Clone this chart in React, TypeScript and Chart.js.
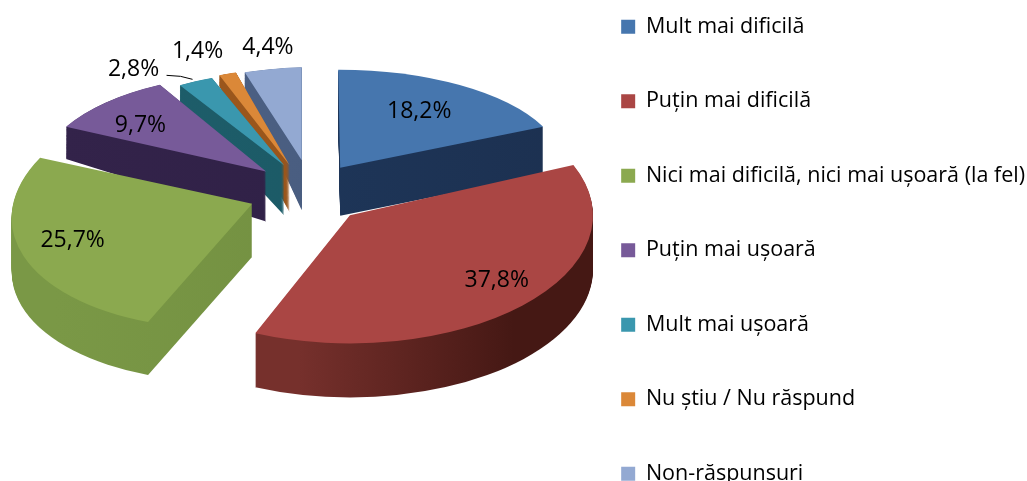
import React, { useEffect, useRef } from "react";
import { Chart, registerables } from "chart.js";

Chart.register(...registerables);

const categories = [
  "Mult mai dificilă",
  "Puțin mai dificilă",
  "Nici mai dificilă, nici mai ușoară (la fel)",
  "Puțin mai ușoară",
  "Mult mai ușoară",
  "Nu știu / Nu răspund",
  "Non-răspunsuri",
];
const percentages = [18.2, 37.8, 25.7, 9.7, 2.8, 1.4, 4.4];
const topColors = ["#4676AE", "#AA4644", "#8BA94F", "#775A99", "#3A97AE", "#DB8838", "#93A9D2"];
const sideLeft = ["#1F3A5F", "#76302C", "#7A9846", "#33234A", "#1F5F6C", "#A05A1E", "#4F6488"];
const sideRight = ["#1C3050", "#451814", "#6C883C", "#2D1F44", "#185560", "#8F4F18", "#435678"];
const explosion = [65, 62, 57, 56, 52, 52, 60];

// Per-slice projection of the tilted pie (2x2 matrix in px per unit radius), extrusion and nudge.
const projAx = [224, 243, 240, 224, 203, 197, 209];
const projBx = [2, -5.6, -17, -10.5, 0, 0, 0];
const projAy = [-0.4, 3, -5.5, 5, 0, 0, -5.5];
const projBy = [98, 128, 125, 98, 93.7, 96.5, 93];
const sliceDepth = [48, 54, 53, 50, 50, 47, 50];
const sideFlare = [1, 1, 1, 1.4, 1.4, 1.4, 1.4];
const sliceNudgeX = [0, 0, 0, 3, 2, 1, 5];
const sliceNudgeY = [5, 4, 3, 0, -1, 0, 0];
const paintOrder = [6, 5, 4, 3, 2, 0, 1];

const labelReach = [0.72, 0.8, 0.75, 0.72, 1, 1, 1];
const labelNudgeX = [-7, 9, -8, -10, -62, -30, -5];
const labelNudgeY = [3, -7, -2, 3.5, -12, -22, -21];

const CANVAS_TOP = -37;
const PIE_X = 305;
const PIE_Y = 190 - CANVAS_TOP; // canvas coordinates
const TILT = 0.5;
const FONT = "'Open Sans'";
const LEGEND_SIZE = 21.5;
const LEGEND_GAP = 53;
const LABEL_SIZE = 23;

const fmt = (v: number) => v.toFixed(1).replace(".", ",") + "%";

function apexOf(arc: any, i: number) {
  const mid = (arc.startAngle + arc.endAngle) / 2;
  return {
    mid,
    x: PIE_X + sliceNudgeX[i] + Math.cos(mid) * explosion[i],
    y: PIE_Y + sliceNudgeY[i] + Math.sin(mid) * explosion[i] * TILT,
  };
}

function applySlice(ctx: CanvasRenderingContext2D, arc: any, i: number, d = 0) {
  const apex = apexOf(arc, i);
  const R = arc.outerRadius;
  const flare = 1 + ((sideFlare[i] - 1) * d) / sliceDepth[i];
  ctx.translate(apex.x, apex.y + d);
  ctx.transform(projAx[i] / R, (projAy[i] * flare) / R, projBx[i] / R, (projBy[i] * flare) / R, 0, 0);
  ctx.translate(-arc.x, -arc.y);
}

const pie3d = {
  id: "pie3d",
  beforeDatasetDraw(chart: any) {
    const ctx: CanvasRenderingContext2D = chart.ctx;
    const arcs = chart.getDatasetMeta(0).data;
    for (const i of paintOrder) {
      const arc = arcs[i];
      const grad = ctx.createLinearGradient(PIE_X - 250, 0, PIE_X + 290, 0);
      const lo = i === 1 ? 0.45 : 0;
      const hi = i === 1 ? 0.85 : 1;
      grad.addColorStop(lo, sideLeft[i]);
      grad.addColorStop(hi, sideRight[i]);
      for (let d = sliceDepth[i]; d >= 1; d--) {
        ctx.save();
        applySlice(ctx, arc, i, d);
        ctx.beginPath();
        ctx.moveTo(arc.x, arc.y);
        ctx.arc(arc.x, arc.y, arc.outerRadius, arc.startAngle, arc.endAngle);
        ctx.closePath();
        ctx.restore();
        ctx.fillStyle = grad;
        ctx.fill();
      }
      ctx.save();
      applySlice(ctx, arc, i);
      arc.draw(ctx);
      ctx.restore();
    }
    return false;
  },
  afterDatasetsDraw(chart: any) {
    const ctx: CanvasRenderingContext2D = chart.ctx;
    const arcs = chart.getDatasetMeta(0).data;
    ctx.save();
    ctx.font = `${LABEL_SIZE}px ${FONT}`;
    ctx.fillStyle = "#000";
    ctx.textAlign = "center";
    ctx.textBaseline = "middle";
    arcs.forEach((arc: any, i: number) => {
      const apex = apexOf(arc, i);
      const ux = Math.cos(apex.mid) * labelReach[i];
      const uy = Math.sin(apex.mid) * labelReach[i];
      const x = apex.x + projAx[i] * ux + projBx[i] * uy + labelNudgeX[i];
      const y = apex.y + projAy[i] * ux + projBy[i] * uy + labelNudgeY[i];
      ctx.fillText(fmt(percentages[i]), x, y);
      if (i === 4) {
        ctx.beginPath();
        ctx.moveTo(x + 33, y + 6);
        ctx.lineTo(x + 47, y + 7);
        ctx.lineTo(x + 59, y + 10);
        ctx.strokeStyle = "#000";
        ctx.lineWidth = 1;
        ctx.stroke();
      }
    });
    ctx.restore();
  },
};

export default function App() {
  const ref = useRef<HTMLCanvasElement>(null);
  useEffect(() => {
    if (!ref.current) return;
    const chart = new Chart(ref.current, {
      type: "pie",
      data: {
        labels: categories,
        datasets: [{ data: percentages, backgroundColor: topColors, borderWidth: 0 }],
      },
      options: {
        animation: false,
        responsive: false,
        radius: 240,
        plugins: {
          tooltip: { enabled: false },
          legend: {
            position: "right",
            align: "start",
            labels: {
              boxWidth: 14,
              boxHeight: 14,
              padding: LEGEND_GAP,
              color: "#000",
              font: { family: FONT, size: LEGEND_SIZE },
            },
          },
        },
      },
      plugins: [pie3d],
    } as any);
    return () => chart.destroy();
  }, []);
  return (
    <div style={{ position: "fixed", left: 0, top: 0, width: 1027, height: 481, overflow: "hidden", background: "#fff" }}>
      <canvas ref={ref} width={1035} height={640} style={{ position: "absolute", left: 0, top: CANVAS_TOP, display: "block" }} />
    </div>
  );
}
